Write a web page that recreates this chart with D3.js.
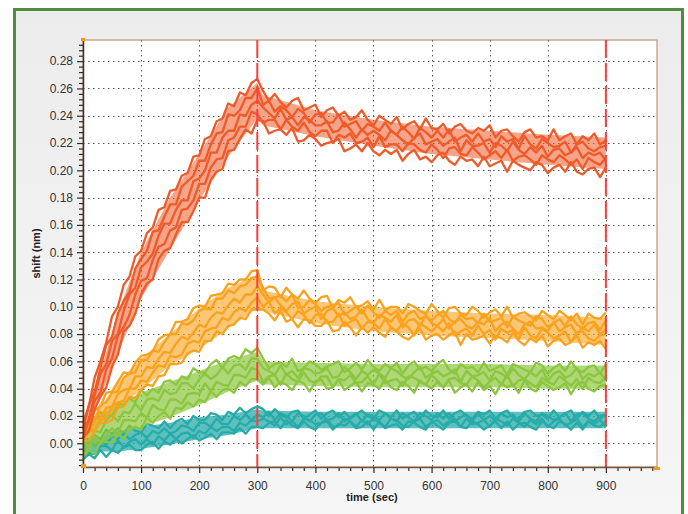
<!DOCTYPE html>
<html>
<head>
<meta charset="utf-8">
<script src="https://cdn.jsdelivr.net/npm/d3@7"></script>
<style>
  body { margin: 0; background: #fff; }
  svg { display: block; }
  text { font-family: "Liberation Sans", Arial, sans-serif; }
</style>
</head>
<body>
<svg id="chart"></svg>
<script>
// sensor traces, shift in pm, sampled every 10 s from 0 to 900 s
// first 31 values = association (0-300 s), next 60 = dissociation (310-900 s)
const sampleStep = 10;
const times = d3.range(0, 901, sampleStep);

const redTraces = [
  [15,27,48,60,74,93,100,116,122,137,141,154,158,171,173,185,186,196,198,210,211,223,225,236,238,249,247,257,255,264,267,
   258,251,256,250,246,251,253,244,246,248,239,244,246,240,243,237,239,244,237,233,240,237,234,239,230,234,236,230,238,231,
   230,234,227,232,234,229,227,231,229,233,224,229,230,225,221,228,230,224,225,222,230,222,225,227,219,225,222,227,219,222],
  [10,28,38,55,72,78,95,104,111,128,135,141,155,156,166,175,175,188,192,196,207,207,219,227,228,241,240,244,253,253,260,
   248,251,243,247,244,239,245,242,235,241,242,235,235,241,232,234,236,229,234,232,229,235,229,226,232,228,223,231,228,224,
   229,224,230,221,224,226,221,227,221,223,217,225,221,223,216,225,219,216,223,220,217,218,221,213,219,221,216,214,217,218],
  [10,17,35,51,58,75,80,97,109,114,129,133,139,152,161,161,171,178,178,192,194,200,213,213,224,229,229,241,240,248,251,
   246,242,238,245,237,239,233,239,237,233,233,236,228,229,235,230,224,230,226,229,226,222,229,226,222,219,224,227,219,221,
   223,218,221,224,214,222,218,218,220,213,220,218,214,221,215,212,217,213,218,210,215,216,211,213,217,209,213,211,213,207],
  [4,17,31,37,54,62,79,85,94,109,119,121,134,144,146,156,158,171,172,178,190,190,202,208,209,222,224,232,232,243,241,
   235,237,237,230,237,232,229,235,228,225,229,229,220,226,224,227,220,221,224,217,225,217,219,219,214,220,219,215,213,219,
   215,209,216,217,212,211,217,213,208,211,214,209,215,207,210,211,208,204,211,208,206,211,208,204,208,201,209,206,204,209],
  [4,9,25,34,41,56,65,82,86,95,109,117,120,135,141,143,153,162,162,170,180,180,193,199,201,214,215,223,230,227,237,
   236,227,229,230,226,231,221,222,226,223,218,220,221,223,214,216,219,214,220,214,211,215,212,215,207,212,215,208,210,206,
   211,213,207,204,210,207,208,203,210,203,205,207,199,207,204,202,200,206,204,198,202,204,199,206,199,197,201,202,195,202]
];

const orangeTraces = [
  [9,13,24,27,37,38,45,52,51,59,64,65,67,76,79,80,89,89,91,99,101,100,108,109,110,117,116,120,120,126,127,
   112,115,114,107,114,109,106,112,106,103,107,108,99,105,103,107,100,101,104,98,105,98,100,100,95,102,100,97,95,102,
   97,92,99,100,95,94,100,97,92,96,98,93,100,92,95,96,93,90,97,94,91,97,94,90,95,87,95,92,91,96],
  [5,14,17,28,30,37,38,48,51,52,61,61,68,67,74,80,80,88,87,90,97,99,98,106,106,112,110,115,116,121,122,
   114,106,107,108,104,109,99,100,105,102,97,100,101,103,94,97,100,95,101,96,92,97,94,97,89,95,97,91,93,90,
   94,97,91,88,94,91,92,88,95,89,90,92,85,93,90,88,86,93,91,85,88,91,86,93,87,84,88,89,83,90],
  [6,8,18,18,26,27,36,39,40,49,49,56,55,62,67,66,73,78,76,81,87,85,92,96,95,101,106,103,109,109,115,
   109,103,107,101,97,102,104,95,98,100,91,97,99,93,96,91,93,98,91,88,94,92,89,94,85,90,91,86,94,88,
   86,91,84,89,91,86,84,89,87,92,82,87,89,84,80,87,89,84,85,82,89,82,85,87,80,85,82,87,80,83],
  [1,9,9,17,18,27,30,31,40,40,46,45,52,57,56,64,63,65,73,75,74,82,84,85,92,90,96,99,97,103,107,
   100,104,95,99,96,91,97,94,88,94,95,89,89,95,86,89,91,84,89,88,84,91,85,82,88,85,79,88,85,82,
   86,82,88,79,82,84,79,86,80,83,76,84,81,83,76,85,79,77,84,81,77,79,82,74,81,82,77,75,79,80],
  [2,2,9,15,15,17,26,27,34,33,39,43,42,49,50,58,58,59,66,68,67,75,75,82,80,86,87,92,91,98,98,
   98,95,90,97,89,91,85,91,90,86,86,90,82,83,89,85,79,85,81,85,81,78,85,82,78,76,80,84,76,79,
   80,76,79,82,72,80,76,77,79,73,79,77,74,81,75,72,77,74,79,71,75,77,72,74,79,70,74,72,75,69]
];

const greenTraces = [
  [15,12,18,23,20,20,29,28,33,30,39,35,40,37,45,46,43,49,47,55,52,52,58,61,55,62,64,62,69,66,70,
   62,55,58,59,56,62,53,55,60,58,54,56,58,60,52,55,59,54,61,56,53,58,55,59,51,57,60,54,56,53,
   58,61,54,51,58,55,56,52,59,53,55,57,50,58,56,54,52,59,57,51,55,58,53,60,54,52,56,57,51,58],
  [4,11,9,8,17,21,16,23,22,29,24,32,33,31,39,36,37,44,44,40,47,51,47,50,56,51,57,58,54,62,62,
   55,53,50,57,50,53,48,55,54,51,52,55,48,49,56,52,47,53,50,54,51,48,55,53,49,47,52,56,48,51,
   53,49,51,54,45,53,49,50,52,46,53,51,48,55,50,47,52,49,54,46,51,53,48,50,55,47,51,49,52,46],
  [1,-2,6,1,6,11,7,17,17,16,22,19,28,25,24,32,32,29,36,37,36,44,38,45,43,42,50,50,48,55,54,
   45,49,50,43,51,47,45,52,46,44,49,49,41,47,46,50,44,45,49,43,51,44,46,47,42,49,48,45,43,50,
   46,41,47,48,44,43,49,46,41,45,48,43,50,42,46,47,44,41,48,45,43,49,46,42,47,40,48,45,44,49],
  [-10,-5,-8,1,1,0,7,3,11,12,10,19,15,20,23,18,26,25,30,27,32,30,38,34,39,40,37,45,42,47,47,
   43,48,41,45,43,39,46,44,38,45,47,40,41,47,39,42,45,38,44,43,40,47,41,39,45,42,37,46,43,40,
   45,41,46,37,41,43,38,45,39,42,36,44,41,43,37,46,40,38,45,42,39,41,44,36,43,45,40,38,42,43]
];

const tealTraces = [
  [5,2,6,3,10,7,11,7,13,9,8,14,13,11,16,11,16,18,14,20,17,17,22,21,17,23,21,26,22,25,27,
   25,20,25,21,19,23,24,18,21,24,18,22,24,19,23,18,21,24,20,18,24,22,19,24,18,21,23,18,24,20,
   19,24,18,22,24,20,18,23,21,24,18,22,24,19,18,23,24,20,21,18,24,19,22,24,18,23,20,24,18,21],
  [-3,2,-2,2,-1,5,3,7,3,6,8,4,9,7,11,7,9,13,12,9,15,15,12,18,14,14,20,17,21,17,21,
   19,23,17,22,20,16,22,20,16,21,22,17,18,22,16,19,22,16,21,20,17,22,18,16,22,19,16,22,20,17,
   22,18,22,16,19,21,16,22,17,20,16,22,19,21,16,22,18,16,22,20,17,19,22,16,21,22,18,16,20,21],
  [-5,-7,-8,-2,-2,-5,2,-3,1,3,-1,3,-1,5,2,7,3,7,8,4,9,7,12,9,12,12,9,15,13,17,16,
   18,16,13,19,14,16,12,18,17,14,15,18,12,13,18,16,12,17,14,18,15,12,18,17,13,12,16,18,12,15,
   17,13,16,18,12,18,14,15,17,12,18,16,13,18,15,12,17,14,18,12,16,18,13,15,18,12,16,14,17,12],
  [-12,-8,-11,-5,-10,-5,-7,-3,-1,-5,-5,-1,1,-4,1,-1,3,0,3,6,2,4,7,3,8,8,7,11,7,12,12,
   11,15,16,11,17,13,11,16,12,10,15,16,10,14,13,16,11,12,16,10,16,11,13,14,10,16,15,12,10,16,
   13,10,15,16,12,11,16,14,10,13,16,11,16,10,14,15,12,10,16,13,11,16,14,10,15,10,16,13,12,16]
];

// spread of each group of traces (upper / lower edge, pm) read at these times
const bandTimes = [0, 30, 60, 100, 150, 200, 250, 300, 310, 400, 500, 600, 700, 800, 900];
const redUpper    = [14, 52, 96, 140, 180, 212, 246, 264, 255, 244, 237, 232, 229, 226, 224];
const redLower    = [5, 34, 66, 106, 142, 178, 210, 238, 233, 225, 218, 212, 208, 204, 201];
const orangeUpper = [8, 27, 44, 62, 80, 99, 114, 124, 112, 104, 100, 97, 95, 94, 92];
const orangeLower = [1, 15, 26, 39, 57, 69, 84, 99, 97, 88, 82, 79, 77, 75, 72];
const greenUpper  = [13, 22, 28, 37, 45, 53, 61, 67, 60, 59, 58, 58, 58, 57, 57];
const greenLower  = [-8, 0, 6, 12, 19, 28, 38, 46, 43, 42, 41, 41, 41, 40, 40];
const tealUpper   = [4, 4, 9, 12, 15, 19, 21, 25, 24, 23, 23, 23, 23, 23, 23];
const tealLower   = [-11, -6, -6, -4, -1, 3, 6, 11, 11, 11, 11, 11, 11, 11, 11];

const seriesGroups = [tealTraces, greenTraces, orangeTraces, redTraces];
const seriesBands = [[tealUpper, tealLower], [greenUpper, greenLower], [orangeUpper, orangeLower], [redUpper, redLower]];
const seriesColors = ["#27aba9", "#8cc63f", "#f9a21d", "#ef5a29"];
const bandOpacity = [0.75, 0.7, 0.6, 0.55];

const phaseMarks = [300, 900];           // start of dissociation, end of run
const xTicks = [0, 100, 200, 300, 400, 500, 600, 700, 800, 900];
const yTicks = [0, 0.02, 0.04, 0.06, 0.08, 0.10, 0.12, 0.14, 0.16, 0.18, 0.20, 0.22, 0.24, 0.26, 0.28];
const pmPerNm = 1000;

const width = 688;
const height = 514;
const plot = { left: 83, top: 40, right: 657, bottom: 467 };

const svg = d3.select("#chart").attr("width", width).attr("height", height);

// panel background + green frame
const defs = svg.append("defs");
const grad = defs.append("linearGradient").attr("id", "panelBg")
  .attr("x1", 0).attr("y1", 0).attr("x2", 0).attr("y2", 1);
grad.append("stop").attr("offset", "0%").attr("stop-color", "#ececec");
grad.append("stop").attr("offset", "100%").attr("stop-color", "#f6f6f6");

svg.append("rect")
  .attr("x", 14.5).attr("y", 9.5)
  .attr("width", 668).attr("height", 520)
  .attr("fill", "url(#panelBg)")
  .attr("stroke", "#4f8c3d")
  .attr("stroke-width", 3);

const xScale = d3.scaleLinear().domain([0, 988]).range([plot.left, plot.right]);
const yScale = d3.scaleLinear().domain([-0.0174, 0.2955]).range([plot.bottom, plot.top]);

svg.append("rect")
  .attr("x", plot.left).attr("y", plot.top)
  .attr("width", plot.right - plot.left).attr("height", plot.bottom - plot.top)
  .attr("fill", "#fff")
  .attr("stroke", "#c9ab8f")
  .attr("stroke-width", 1.5);

// dotted grid
const grid = svg.append("g").attr("stroke", "#555").attr("stroke-width", 1).attr("stroke-dasharray", "1.5,3.5");
grid.selectAll(".gy").data(yTicks).enter().append("line")
  .attr("x1", plot.left).attr("x2", plot.right)
  .attr("y1", d => Math.round(yScale(d)) + 0.5).attr("y2", d => Math.round(yScale(d)) + 0.5);
grid.selectAll(".gx").data(xTicks.slice(1)).enter().append("line")
  .attr("y1", plot.top).attr("y2", plot.bottom)
  .attr("x1", d => Math.round(xScale(d)) + 0.5).attr("x2", d => Math.round(xScale(d)) + 0.5);

// traces
const line = d3.line()
  .x((d, i) => xScale(times[i]))
  .y(d => yScale(d / pmPerNm));

const band = d3.area()
  .x(d => xScale(d.t))
  .y0(d => yScale(d.lo / pmPerNm))
  .y1(d => yScale(d.hi / pmPerNm));

const traces = svg.append("g");
seriesGroups.forEach((group, gi) => {
  const [hi, lo] = seriesBands[gi];
  const g = traces.append("g");
  g.append("path")
    .datum(bandTimes.map((t, i) => ({ t, hi: hi[i], lo: lo[i] })))
    .attr("d", band)
    .attr("fill", seriesColors[gi])
    .attr("fill-opacity", bandOpacity[gi]);
  g.selectAll(".trace")
    .data(group)
    .enter()
    .append("path")
    .attr("d", line)
    .attr("fill", "none")
    .attr("stroke", seriesColors[gi])
    .attr("stroke-width", 2.3)
    .attr("stroke-linejoin", "round");
});

// phase markers
svg.selectAll(".phase").data(phaseMarks).enter().append("line")
  .attr("x1", d => xScale(d)).attr("x2", d => xScale(d))
  .attr("y1", plot.top).attr("y2", plot.bottom)
  .attr("stroke", "#ff3d3d")
  .attr("stroke-width", 2)
  .attr("stroke-dasharray", "18,5");

// axes
const yMinor = d3.range(-0.016, 0.2951, 0.004).filter(v => Math.abs(v / 0.02 - Math.round(v / 0.02)) > 0.01);
const xMinor = d3.range(0, 989, 20).filter(v => v % 100 !== 0);

const yAxis = d3.axisLeft(yScale).tickValues(yTicks).tickSize(6).tickSizeOuter(0).tickPadding(4)
  .tickFormat(d3.format(".2f"));
const yAxisMinor = d3.axisLeft(yScale).tickValues(yMinor).tickSize(4).tickSizeOuter(0).tickFormat("");
const xAxis = d3.axisBottom(xScale).tickValues(xTicks).tickSize(6).tickSizeOuter(0).tickPadding(8)
  .tickFormat(d3.format("d"));
const xAxisMinor = d3.axisBottom(xScale).tickValues(xMinor).tickSize(4).tickSizeOuter(0).tickFormat("");

const gyMinor = svg.append("g").attr("transform", `translate(${plot.left},0)`).call(yAxisMinor);
const gy = svg.append("g").attr("transform", `translate(${plot.left},0)`).call(yAxis);
const gxMinor = svg.append("g").attr("transform", `translate(0,${plot.bottom})`).call(xAxisMinor);
const gx = svg.append("g").attr("transform", `translate(0,${plot.bottom})`).call(xAxis);

[gy, gyMinor, gx, gxMinor].forEach(g => {
  g.selectAll(".tick line").attr("stroke", "#2a2a2a").attr("stroke-width", 1.2);
  g.selectAll(".tick text").attr("fill", "#333").style("font-size", "12px");
});
gy.select(".domain").attr("stroke", "#4a2e1e").attr("stroke-width", 1.5);
gyMinor.select(".domain").remove();
gx.select(".domain").attr("stroke", "#7a563c").attr("stroke-width", 1.5);
gxMinor.select(".domain").remove();

// little orange corner handles
const handles = [[plot.left - 2, plot.top - 2, 4, 3], [plot.left - 2, plot.bottom - 3, 5, 4], [plot.right - 3, plot.bottom, 6, 3]];
svg.selectAll(".handle").data(handles).enter().append("rect")
  .attr("x", d => d[0]).attr("y", d => d[1]).attr("width", d => d[2]).attr("height", d => d[3])
  .attr("fill", "#f39a1e");

// axis titles
svg.append("text")
  .attr("x", 372)
  .attr("y", 501)
  .attr("text-anchor", "middle")
  .style("font-size", "11px")
  .style("font-weight", "bold")
  .attr("fill", "#222")
  .text("time (sec)");

svg.append("text")
  .attr("transform", `translate(40,${(plot.top + plot.bottom) / 2}) rotate(-90)`)
  .attr("text-anchor", "middle")
  .style("font-size", "11px")
  .style("font-weight", "bold")
  .attr("fill", "#222")
  .text("shift (nm)");
</script>
</body>
</html>
